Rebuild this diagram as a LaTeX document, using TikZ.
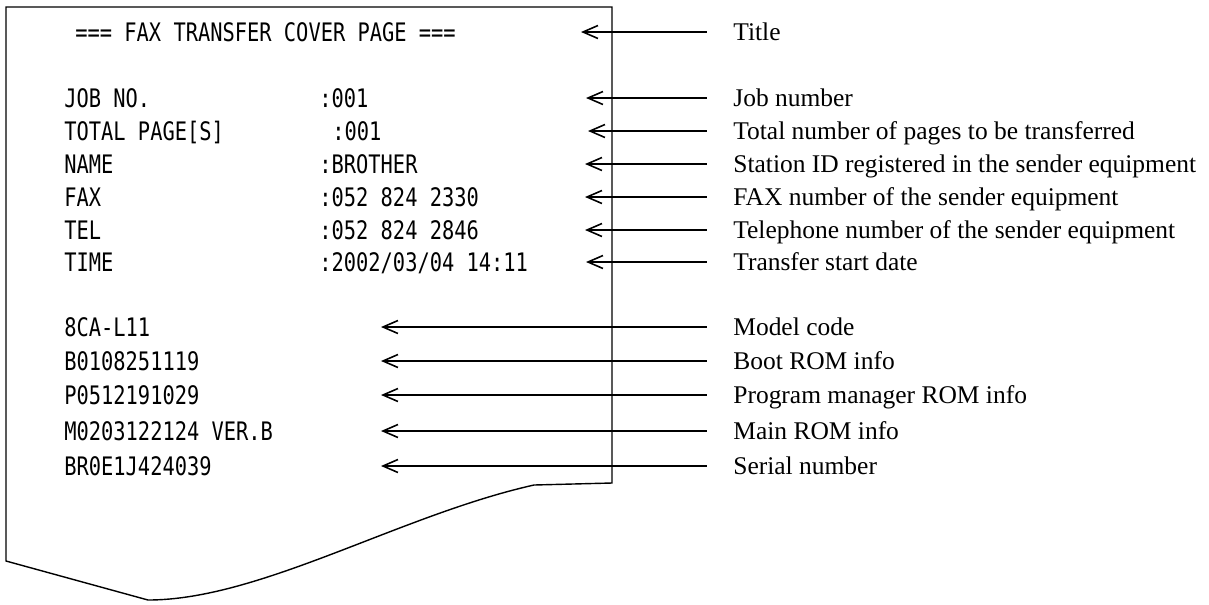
\documentclass[tikz,border=0pt]{standalone}
\usepackage{fontspec}
\setmainfont{Liberation Serif}
\newfontfamily\faxfont[FakeStretch=0.8]{DejaVu Sans Mono}
\usetikzlibrary{positioning, arrows.meta}

\begin{document}
\begin{tikzpicture}[
        % Style for the lines printed on the sheet
        printline/.style={
            anchor=west,
            inner sep=0pt,
            text height=0.37cm,
            text depth=0pt,
            font=\faxfont\fontsize{14.5}{17}\selectfont
        },
        % Style for the explanations on the right
        explain/.style={
            anchor=west,
            inner sep=0pt,
            text height=0.32cm,
            text depth=0pt,
            font=\fontsize{14.5}{17}\selectfont
        },
        % Style for the pointing arrows
        callout/.style={
            <-,
            >={Straight Barb[length=3mm,width=2.6mm]},
            line width=0.9pt,
            shorten >=0.52cm
        }
    ]
    \useasboundingbox (0,0) rectangle (24.18,-12.08);

    % ==========================================
    % PRINTED SHEET
    % ==========================================
    \draw[line width=0.8pt] (10.68,-9.70) -- (12.24,-9.66) -- (12.24,-0.14) -- (0.12,-0.14)
        -- (0.12,-11.22) -- (2.96,-12.00) .. controls (5.2,-12.0) and (8.0,-10.3) .. (10.68,-9.70);

    \node[printline] (title) at (1.5,-0.64) {=== FAX TRANSFER COVER PAGE ===};

    \node[printline] (job) at (1.28,-1.96) {JOB NO.};
    \node[printline] (jobval) at (6.38,-1.96) {:001};
    \node[printline] (total) at (1.28,-2.62) {TOTAL PAGE[S]};
    \node[printline] (totalval) at (6.64,-2.62) {:001};
    \node[printline] (name) at (1.28,-3.28) {NAME};
    \node[printline] (nameval) at (6.38,-3.28) {:BROTHER};
    \node[printline] (fax) at (1.28,-3.94) {FAX};
    \node[printline] (faxval) at (6.38,-3.94) {:052 824 2330};
    \node[printline] (tel) at (1.28,-4.60) {TEL};
    \node[printline] (telval) at (6.38,-4.60) {:052 824 2846};
    \node[printline] (time) at (1.28,-5.24) {TIME};
    \node[printline] (timeval) at (6.38,-5.24) {:2002/03/04 14:11};

    \node[printline] (model) at (1.28,-6.54) {8CA-L11};
    \node[printline] (boot) at (1.28,-7.22) {B0108251119};
    \node[printline] (prog) at (1.28,-7.90) {P0512191029};
    \node[printline] (main) at (1.28,-8.62) {M0203122124 VER.B};
    \node[printline] (serial) at (1.28,-9.32) {BR0E1J424039};

    % ==========================================
    % EXPLANATIONS
    % ==========================================
    \node[explain] (titleexp) at (14.66,-0.64) {Title};
    \node[explain] (jobexp) at (14.66,-1.96) {Job number};
    \node[explain] (totalexp) at (14.66,-2.62) {Total number of pages to be transferred};
    \node[explain] (nameexp) at (14.66,-3.28) {Station ID registered in the sender equipment};
    \node[explain] (faxexp) at (14.66,-3.94) {FAX number of the sender equipment};
    \node[explain] (telexp) at (14.66,-4.60) {Telephone number of the sender equipment};
    \node[explain] (timeexp) at (14.66,-5.24) {Transfer start date};
    \node[explain] (modelexp) at (14.66,-6.54) {Model code};
    \node[explain] (bootexp) at (14.66,-7.22) {Boot ROM info};
    \node[explain] (progexp) at (14.66,-7.90) {Program manager ROM info};
    \node[explain] (mainexp) at (14.66,-8.62) {Main ROM info};
    \node[explain] (serialexp) at (14.66,-9.32) {Serial number};

    % Arrow heads just right of the printed lines
    \coordinate (titlehd) at (11.62,-0.64);
    \coordinate (jobhd) at (11.72,-1.96);
    \coordinate (totalhd) at (11.76,-2.62);
    \coordinate (namehd) at (11.7,-3.28);
    \coordinate (faxhd) at (11.7,-3.94);
    \coordinate (telhd) at (11.7,-4.60);
    \coordinate (timehd) at (11.72,-5.24);
    \coordinate (modelhd) at (7.62,-6.54);
    \coordinate (boothd) at (7.62,-7.22);
    \coordinate (proghd) at (7.62,-7.90);
    \coordinate (mainhd) at (7.62,-8.62);
    \coordinate (serialhd) at (7.62,-9.32);

    \draw[callout] (titlehd) -- (titleexp.west);
    \draw[callout] (jobhd) -- (jobexp.west);
    \draw[callout] (totalhd) -- (totalexp.west);
    \draw[callout] (namehd) -- (nameexp.west);
    \draw[callout] (faxhd) -- (faxexp.west);
    \draw[callout] (telhd) -- (telexp.west);
    \draw[callout] (timehd) -- (timeexp.west);
    \draw[callout] (modelhd) -- (modelexp.west);
    \draw[callout] (boothd) -- (bootexp.west);
    \draw[callout] (proghd) -- (progexp.west);
    \draw[callout] (mainhd) -- (mainexp.west);
    \draw[callout] (serialhd) -- (serialexp.west);

    \end{tikzpicture}
\end{document}
